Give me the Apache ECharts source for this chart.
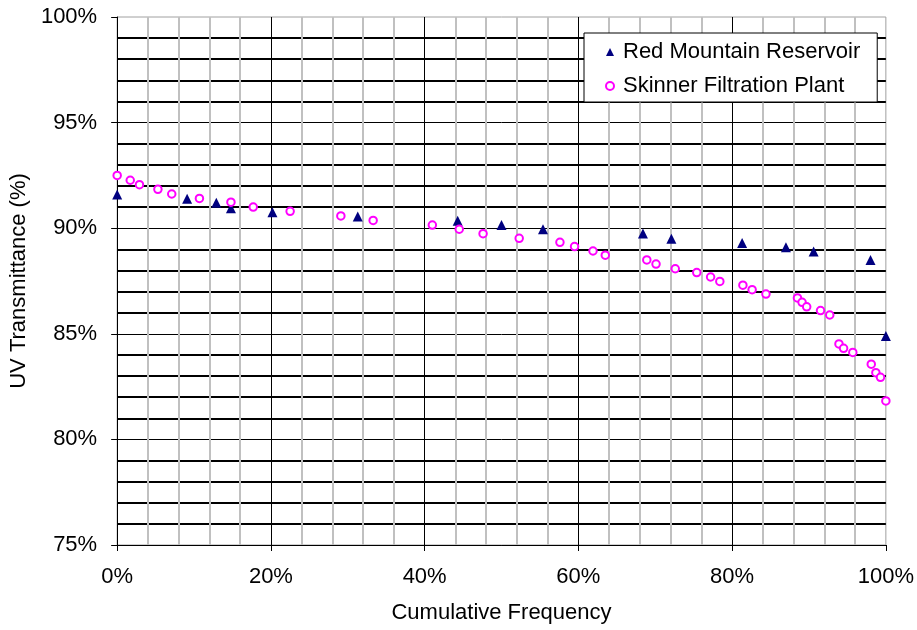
<!DOCTYPE html>
<html>
<head>
<meta charset="utf-8">
<script src="https://cdn.jsdelivr.net/npm/echarts@6/dist/echarts.min.js"></script>
<style>
html,body{margin:0;padding:0;background:#fff;}
#c{width:917px;height:630px;}
</style>
</head>
<body>
<div id="c"></div>
<script>
// Red Mountain Reservoir: cumulative frequency (%) and UV transmittance (%)
const redX = [0, 9.1, 12.9, 14.8, 20.2, 31.3, 44.3, 50.0, 55.4, 68.4, 72.1, 81.3, 87.0, 90.6, 98.0, 100];
const redY = [91.6, 91.4, 91.2, 90.95, 90.75, 90.55, 90.35, 90.15, 89.95, 89.75, 89.5, 89.3, 89.1, 88.9, 88.5, 84.9];
// Skinner Filtration Plant
const skinX = [0, 1.7, 2.9, 5.3, 7.1, 10.7, 14.8, 17.7, 22.5, 29.1, 33.3, 41.0, 44.5, 47.6, 52.3, 57.6, 59.5, 61.9, 63.5,
  68.9, 70.1, 72.6, 75.4, 77.2, 78.4, 81.4, 82.6, 84.4, 88.5, 89.1, 89.7, 91.5, 92.7, 93.9, 94.5, 95.7, 98.1, 98.7, 99.3, 100];
const skinY = [92.5, 92.27, 92.06, 91.84, 91.62, 91.41, 91.23, 91.0, 90.8, 90.58, 90.37, 90.15, 89.95, 89.74, 89.52, 89.33, 89.13, 88.92, 88.72,
  88.5, 88.3, 88.08, 87.9, 87.69, 87.48, 87.3, 87.09, 86.88, 86.7, 86.49, 86.28, 86.1, 85.89, 84.52, 84.31, 84.12, 83.56, 83.16, 82.94, 81.82];
const seriesNames = ['Red Mountain Reservoir', 'Skinner Filtration Plant'];
const xTicks = [0, 20, 40, 60, 80, 100];
const yTicks = [75, 80, 85, 90, 95, 100];

const zip = (a, b) => a.map((v, i) => [v, b[i]]);
const font = 'Liberation Sans, Arial, sans-serif';
const fs = 22;
const chart = echarts.init(document.getElementById('c'), null, {renderer: 'canvas'});
chart.setOption({
  animation: false,
  backgroundColor: '#ffffff',
  grid: {left: 117, right: 30, top: 17, bottom: 85, containLabel: false,
         show: true, borderColor: '#a0a0a0', borderWidth: 1},
  legend: {
    left: 584, top: 33, orient: 'vertical',
    backgroundColor: '#ffffff', borderColor: '#000', borderWidth: 1,
    padding: [8, 17, 5, 21], itemGap: 12, itemWidth: 8, itemHeight: 8,
    textStyle: {fontFamily: font, fontSize: fs, color: '#000', lineHeight: 22, padding: [0, 0, 0, 4]},
    data: [
      {name: seriesNames[0], icon: 'triangle'},
      {name: seriesNames[1], icon: 'emptyCircle'}
    ]
  },
  xAxis: {
    type: 'value', min: xTicks[0], max: xTicks[xTicks.length - 1], interval: 20,
    name: 'Cumulative Frequency', nameLocation: 'middle', nameGap: 57,
    nameTextStyle: {fontFamily: font, fontSize: fs, color: '#000'},
    axisLine: {show: true, lineStyle: {color: '#000', width: 1}},
    axisTick: {show: true, inside: false, length: 6, lineStyle: {color: '#000'}},
    axisLabel: {formatter: '{value}%', fontFamily: font, fontSize: fs, color: '#000', margin: 21},
    splitLine: {show: true, showMaxLine: false, lineStyle: {color: '#000', width: 1}},
    minorTick: {show: false, splitNumber: 5},
    minorSplitLine: {show: true, lineStyle: {color: '#c0c0c0', width: 2}}
  },
  yAxis: {
    type: 'value', min: yTicks[0], max: yTicks[yTicks.length - 1], interval: 5,
    name: 'UV Transmittance (%)', nameLocation: 'middle', nameGap: 87,
    nameTextStyle: {fontFamily: font, fontSize: fs, color: '#000'},
    axisLine: {show: true, lineStyle: {color: '#000', width: 1}},
    axisTick: {show: true, inside: false, length: 6, lineStyle: {color: '#000'}},
    axisLabel: {formatter: '{value}%', fontFamily: font, fontSize: fs, color: '#000', margin: 20},
    splitLine: {show: true, showMaxLine: false, lineStyle: {color: '#000', width: 1}},
    minorTick: {show: false, splitNumber: 5},
    minorSplitLine: {show: true, lineStyle: {color: '#000', width: 2}}
  },
  series: [
    {
      name: seriesNames[0], type: 'scatter', symbol: 'triangle', symbolSize: 10,
      itemStyle: {color: '#000080', opacity: 1}, data: zip(redX, redY), z: 3
    },
    {
      name: seriesNames[1], type: 'scatter', symbol: 'emptyCircle', symbolSize: 7.5,
      itemStyle: {color: '#ff00ff', borderColor: '#ff00ff', borderWidth: 1.7, opacity: 1}, data: zip(skinX, skinY), z: 4
    }
  ]
});
</script>
</body>
</html>
